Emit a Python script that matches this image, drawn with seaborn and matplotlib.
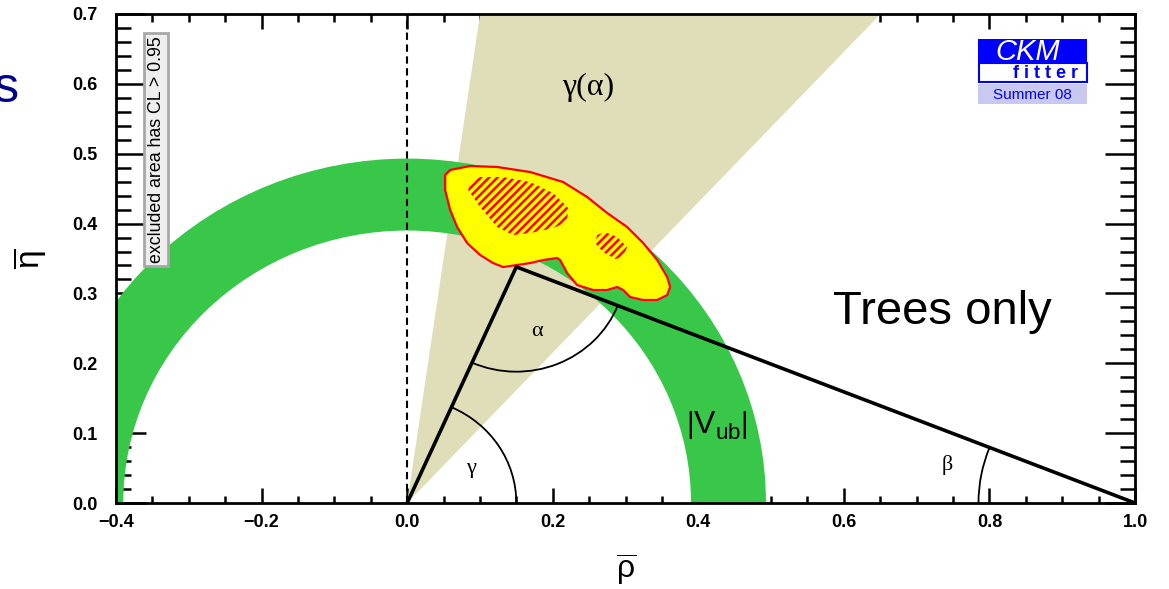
import numpy as np
import pandas as pd
import seaborn as sns
import matplotlib
matplotlib.use("Agg")
import matplotlib.pyplot as plt
from matplotlib.patches import Wedge, Arc, Rectangle
from matplotlib.ticker import MultipleLocator

# ---------------- data ----------------
x_ticks = [-0.4, -0.2, 0.0, 0.2, 0.4, 0.6, 0.8, 1.0]
x_tick_labels = ["\u22120.4", "\u22120.2", "0.0", "0.2", "0.4", "0.6", "0.8", "1.0"]
y_ticks = [0.0, 0.1, 0.2, 0.3, 0.4, 0.5, 0.6, 0.7]
y_tick_labels = ["0.0", "0.1", "0.2", "0.3", "0.4", "0.5", "0.6", "0.7"]

vub_r_inner = 0.390
vub_r_outer = 0.493
gamma_alpha_angles_deg = [47.1, 81.85]   # edges of the gamma(alpha) wedge

apex_rho = 0.150
apex_eta = 0.338
gamma_arc_r = 0.15
alpha_arc_r = 0.15
beta_arc_r = 0.215

blob_rho = [0.0522, 0.0591, 0.0866, 0.1236, 0.1690, 0.2143, 0.2473, 0.2748, 0.3022,
            0.3242, 0.3435, 0.3572, 0.3613, 0.3572, 0.3435, 0.3242, 0.3064, 0.2967,
            0.2885, 0.2748, 0.2555, 0.2335, 0.2198, 0.2102, 0.2061, 0.1868, 0.1690,
            0.1511, 0.1319, 0.1181, 0.1003, 0.0824, 0.0687, 0.0591, 0.0522]
blob_eta = [0.4695, 0.4767, 0.4824, 0.4810, 0.4738, 0.4595, 0.4380, 0.4151, 0.3951,
            0.3722, 0.3478, 0.3235, 0.3092, 0.2977, 0.2906, 0.2906, 0.2949, 0.3049,
            0.3092, 0.3049, 0.3049, 0.3121, 0.3292, 0.3478, 0.3507, 0.3478, 0.3435,
            0.3407, 0.3378, 0.3435, 0.3550, 0.3722, 0.3951, 0.4194, 0.4480]

core1_rho = [0.0866, 0.1003, 0.1319, 0.1690, 0.2006, 0.2212, 0.2198, 0.2006, 0.1690,
             0.1456, 0.1236, 0.1003, 0.0838]
core1_eta = [0.4595, 0.4666, 0.4666, 0.4595, 0.4437, 0.4223, 0.4022, 0.3936, 0.3865,
             0.3836, 0.3951, 0.4237, 0.4480]
core2_rho = [0.2610, 0.2720, 0.2885, 0.3022, 0.2967, 0.2858, 0.2693, 0.2583]
core2_eta = [0.3836, 0.3879, 0.3808, 0.3664, 0.3521, 0.3493, 0.3593, 0.3722]

# ---------------- style ----------------
sns.set_theme(style="ticks")
plt.rcParams["font.family"] = ["Liberation Sans", "DejaVu Sans"]
plt.rcParams["text.color"] = "black"
plt.rcParams["axes.labelcolor"] = "black"
plt.rcParams["xtick.color"] = "black"
plt.rcParams["ytick.color"] = "black"
plt.rcParams["mathtext.fontset"] = "custom"
plt.rcParams["mathtext.rm"] = "Liberation Sans"
plt.rcParams["mathtext.it"] = "Liberation Sans:italic"
plt.rcParams["mathtext.bf"] = "Liberation Sans:bold"
plt.rcParams["hatch.linewidth"] = 1.8

fig = plt.figure(figsize=(11.69, 5.89), dpi=100)
fig.patch.set_facecolor("white")
ax = fig.add_axes([116 / 1169, 86 / 589, 1019 / 1169, 489 / 589])
ax.set_facecolor("white")
ax.set_xlim(-0.4, 1.0)
ax.set_ylim(0.0, 0.7)

# gamma(alpha) wedge
R = 1.3
a1, a2 = np.radians(gamma_alpha_angles_deg)
ax.fill([0, R * np.cos(a1), R * np.cos(a2)], [0, R * np.sin(a1), R * np.sin(a2)],
        color="#DFDEB9", lw=0, zorder=1)

# |Vub| annulus
ax.add_patch(Wedge((0, 0), vub_r_outer, 0, 180, width=vub_r_outer - vub_r_inner,
                   facecolor="#39C74A", edgecolor="none", zorder=2))

# dashed rho=0 line
ax.axvline(0.0, color="black", lw=1.5, ls=(0, (3.5, 2.2)), zorder=3)

# global fit blob
ax.fill(blob_rho, blob_eta, facecolor="#FFFF00", edgecolor="#FF0000", lw=1.6, zorder=4)
for cr, ce in [(core1_rho, core1_eta), (core2_rho, core2_eta)]:
    ax.fill(cr, ce, facecolor="none", edgecolor="#FF0000", hatch="////", lw=0, zorder=5)

# unitarity triangle sides
tri = pd.DataFrame({"rho": [0.0, apex_rho, 1.0], "eta": [0.0, apex_eta, 0.0]})
sns.lineplot(data=tri, x="rho", y="eta", sort=False, estimator=None, color="black",
             lw=2.6, ax=ax, zorder=6)

# angle arcs
ang_side = np.degrees(np.arctan2(apex_eta, apex_rho))
ang_to_o = np.degrees(np.arctan2(-apex_eta, -apex_rho)) % 360
ang_to_1 = np.degrees(np.arctan2(-apex_eta, 1.0 - apex_rho)) % 360
ang_beta = np.degrees(np.arctan2(apex_eta, apex_rho - 1.0))
ax.add_patch(Arc((0, 0), 2 * gamma_arc_r, 2 * gamma_arc_r, theta1=0, theta2=ang_side,
                 color="black", lw=1.3, zorder=6))
ax.add_patch(Arc((apex_rho, apex_eta), 2 * alpha_arc_r, 2 * alpha_arc_r,
                 theta1=ang_to_o, theta2=ang_to_1, color="black", lw=1.3, zorder=6))
ax.add_patch(Arc((1.0, 0.0), 2 * beta_arc_r, 2 * beta_arc_r, theta1=ang_beta, theta2=180,
                 color="black", lw=1.3, zorder=6))

# annotations
serif = ["Liberation Serif", "DejaVu Serif"]
ax.text(0.1786, 0.2448, "\u03b1", family=serif, fontsize=16, ha="center", va="center",
        color="black", zorder=7)
ax.text(0.088, 0.050, "\u03b3", family=serif, fontsize=16, ha="center", va="center",
        color="black", zorder=7)
ax.text(0.742, 0.055, "\u03b2", family=serif, fontsize=16, ha="center", va="center",
        color="black", zorder=7)
ax.text(0.2487, 0.5955, "\u03b3(\u03b1)", family=serif, fontsize=23, ha="center",
        va="center", color="black", zorder=7)
ax.text(0.426, 0.111, r"$\left|\mathrm{V}_{\mathrm{ub}}\right|$", fontsize=23,
        ha="center", va="center", color="black", zorder=7)
ax.text(0.735, 0.256, "Trees only", fontsize=34, ha="center", va="baseline",
        color="black", zorder=7)
ax.text(-0.345, 0.506, "excluded area has CL > 0.95", rotation=90, fontsize=12.8,
        ha="center", va="center", color="black", zorder=7,
        bbox=dict(boxstyle="square,pad=0.18", fc="#EEEEEE", ec="#A8A8A8", lw=2))

# CKMfitter logo
ax.add_patch(Rectangle((0.846, 0.900), 0.107, 0.049, transform=ax.transAxes,
                       facecolor="#0000FF", edgecolor="none", zorder=8))
ax.add_patch(Rectangle((0.847, 0.860), 0.106, 0.040, transform=ax.transAxes,
                       facecolor="white", edgecolor="#0000FF", lw=1.5, zorder=8))
ax.add_patch(Rectangle((0.846, 0.815), 0.107, 0.042, transform=ax.transAxes,
                       facecolor="#C8C8F0", edgecolor="none", zorder=8))
ax.text(0.895, 0.923, "CKM", transform=ax.transAxes, color="white", style="italic",
        fontsize=21, ha="center", va="center", zorder=9)
ax.text(0.912, 0.879, "f i t t e r", transform=ax.transAxes, color="#0000FF",
        fontweight="bold", fontsize=13, ha="center", va="center", zorder=9)
ax.text(0.899, 0.834, "Summer 08", transform=ax.transAxes, color="#0000FF",
        fontsize=11, ha="center", va="center", zorder=9)

# axes styling
ax.set_xticks(x_ticks)
ax.set_xticklabels(x_tick_labels)
ax.set_yticks(y_ticks)
ax.set_yticklabels(y_tick_labels)
ax.xaxis.set_minor_locator(MultipleLocator(0.05))
ax.yaxis.set_minor_locator(MultipleLocator(0.02))
ax.tick_params(which="both", direction="in", top=True, right=True, color="black",
               width=1.8, labelsize=13, labelcolor="black")
ax.tick_params(axis="x", which="major", length=10.8, pad=8)
ax.tick_params(axis="x", which="minor", length=5.4)
ax.tick_params(axis="y", which="major", length=21.6, pad=13.5)
ax.tick_params(axis="y", which="minor", length=10.8)
for lab in ax.get_xticklabels() + ax.get_yticklabels():
    lab.set_fontweight("bold")
for sp in ax.spines.values():
    sp.set_visible(True)
    sp.set_color("black")
    sp.set_linewidth(2.0)
    sp.set_zorder(10)

ax.set_xlabel(r"$\overline{\mathrm{\rho}}$", fontsize=23, color="black")
ax.set_ylabel(r"$\overline{\mathrm{\eta}}$", fontsize=24, color="black")
ax.xaxis.set_label_coords(0.501, -0.100)
ax.yaxis.set_label_coords(-0.067, 0.5)
ax.grid(False)

# clipped slide-title fragment at the left edge
fig.text(19 / 1169, (589 - 102) / 589, "s", color="#000088", fontsize=36,
         ha="right", va="baseline")

fig.savefig("out.png", dpi=100, facecolor="white")
